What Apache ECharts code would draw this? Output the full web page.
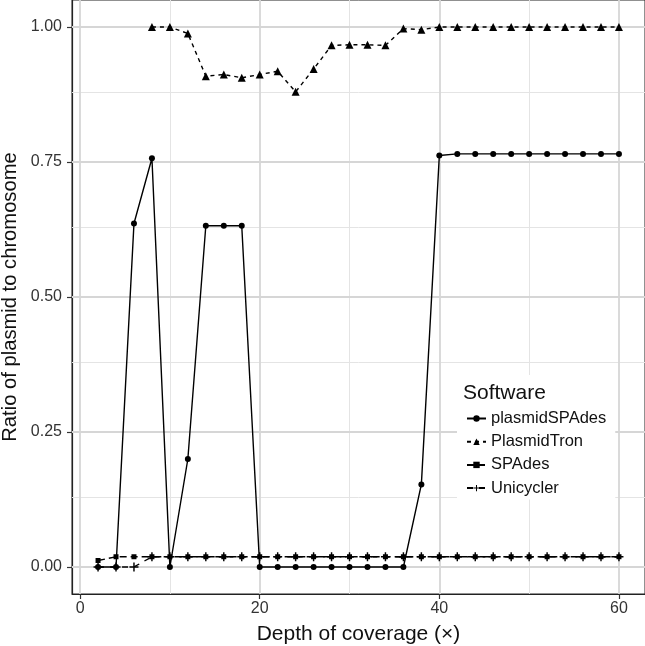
<!DOCTYPE html>
<html>
<head>
<meta charset="utf-8">
<script src="https://cdn.jsdelivr.net/npm/echarts@6/dist/echarts.min.js"></script>
<style>
  html, body { margin: 0; padding: 0; background: #fff; }
  #chart { width: 645px; height: 646px; }
</style>
</head>
<body>
<div id="chart"></div>
<script>
// depth of coverage on x
var depth = [2, 4, 6, 8, 10, 12, 14, 16, 18, 20, 22, 24, 26, 28, 30,
             32, 34, 36, 38, 40, 42, 44, 46, 48, 50, 52, 54, 56, 58, 60];

var plasmidSPAdes = [0, 0, 0.636, 0.757, 0, 0.2, 0.632, 0.632, 0.632, 0,
                     0, 0, 0, 0, 0, 0, 0, 0, 0.153, 0.762,
                     0.765, 0.765, 0.765, 0.765, 0.765, 0.765, 0.765, 0.765, 0.765, 0.765];
var plasmidTron = [null, null, null, 1.0, 1.0, 0.988, 0.909, 0.912, 0.906, 0.912,
                   0.918, 0.88, 0.922, 0.966, 0.967, 0.967, 0.966, 0.997, 0.995, 1.0,
                   1.0, 1.0, 1.0, 1.0, 1.0, 1.0, 1.0, 1.0, 1.0, 1.0];
var spades = [0.012, 0.019, 0.019, 0.019, 0.019, 0.019, 0.019, 0.019, 0.019, 0.019,
              0.019, 0.019, 0.019, 0.019, 0.019, 0.019, 0.019, 0.019, 0.019, 0.019,
              0.019, 0.019, 0.019, 0.019, 0.019, 0.019, 0.019, 0.019, 0.019, 0.019];
var unicycler = [0, 0, 0, 0.019, 0.019, 0.019, 0.019, 0.019, 0.019, 0.019,
                 0.019, 0.019, 0.019, 0.019, 0.019, 0.019, 0.019, 0.019, 0.019, 0.019,
                 0.019, 0.019, 0.019, 0.019, 0.019, 0.019, 0.019, 0.019, 0.019, 0.019];

var xTicks = [0, 20, 40, 60];
var xMinor = [10, 30, 50];
var yTicks = [0, 0.25, 0.5, 0.75, 1];
var yMinor = [0.125, 0.375, 0.625, 0.875];

var font = "Liberation Sans";
var plusPath = "path://M4.2,0H5.8V4.2H10V5.8H5.8V10H4.2V5.8H0V4.2H4.2Z";

function zip(ys) {
    return depth.map(function (d, i) { return [d, ys[i]]; });
}

function gridLines(values, key, color, width) {
    return values.map(function (v) {
        var o = { lineStyle: { color: color, width: width, type: "solid" } };
        o[key] = v;
        return o;
    });
}

var chart = echarts.init(document.getElementById("chart"));

var lineSeries = function (name, data, dash, symbol, size) {
    return {
        name: name,
        type: "line",
        data: zip(data),
        z: 3,
        connectNulls: false,
        symbol: symbol,
        symbolSize: size,
        showAllSymbol: true,
        itemStyle: { color: "#000" },
        lineStyle: { color: "#000", width: 1.4, type: dash },
        emphasis: { disabled: true },
        animation: false
    };
};

var option = {
    animation: false,
    textStyle: { fontFamily: font },
    title: {
        text: "Software",
        left: 463,
        top: 383,
        z: 10,
        padding: 0,
        textStyle: { fontFamily: font, fontSize: 21, fontWeight: "normal", color: "#111" }
    },
    legend: {
        data: ["plasmidSPAdes", "PlasmidTron", "SPAdes", "Unicycler"],
        orient: "vertical",
        left: 457,
        top: 375,
        z: 5,
        padding: [35, 9, 3, 9],
        backgroundColor: "#fff",
        itemWidth: 19,
        itemHeight: 8,
        itemGap: 6.2,
        textStyle: { fontFamily: font, fontSize: 16.5, color: "#111" }
    },
    grid: {
        left: 72,
        right: 0,
        top: 0,
        bottom: 52,
        containLabel: false,
        outerBoundsMode: "none",
        show: true,
        backgroundColor: "#fff",
        borderColor: "#222",
        borderWidth: 1
    },
    xAxis: {
        type: "value",
        min: -0.9,
        max: 62.9,
        name: "Depth of coverage (×)",
        nameLocation: "middle",
        nameGap: 30,
        nameTextStyle: { fontFamily: font, fontSize: 21, color: "#111" },
        axisLine: { show: true, onZero: false, lineStyle: { color: "#222", width: 1.2 } },
        axisTick: { show: true, length: 5, customValues: xTicks, lineStyle: { color: "#333", width: 1.2 } },
        axisLabel: { customValues: xTicks, margin: 7, fontSize: 16, color: "#333", fontFamily: font },
        splitLine: { show: false }
    },
    yAxis: {
        type: "value",
        min: -0.05,
        max: 1.05,
        name: "Ratio of plasmid to chromosome",
        nameLocation: "middle",
        nameRotate: 90,
        nameGap: 50,
        nameTextStyle: { fontFamily: font, fontSize: 20.2, color: "#111" },
        axisLine: { show: true, onZero: false, lineStyle: { color: "#222", width: 1.2 } },
        axisTick: { show: true, length: 5, customValues: yTicks, lineStyle: { color: "#333", width: 1.2 } },
        axisLabel: {
            customValues: yTicks, margin: 10, fontSize: 16, color: "#333", fontFamily: font,
            formatter: function (v) { return v.toFixed(2); }
        },
        splitLine: { show: false }
    },
    series: [
        {
            name: "grid",
            type: "line",
            data: [],
            z: 1,
            silent: true,
            markLine: {
                silent: true,
                z: 1,
                symbol: ["none", "none"],
                label: { show: false },
                emphasis: { disabled: true },
                animation: false,
                data: []
                    .concat(gridLines(xMinor, "xAxis", "#e4e4e4", 1))
                    .concat(gridLines(yMinor, "yAxis", "#e4e4e4", 1))
                    .concat(gridLines(xTicks, "xAxis", "#d6d6d6", 1.8))
                    .concat(gridLines(yTicks, "yAxis", "#d6d6d6", 1.8))
            }
        },
        lineSeries("plasmidSPAdes", plasmidSPAdes, "solid", "circle", 6),
        lineSeries("PlasmidTron", plasmidTron, [4, 4], "triangle", 8),
        lineSeries("SPAdes", spades, [7, 4], "rect", 5),
        lineSeries("Unicycler", unicycler, [6, 6], plusPath, 9)
    ]
};

chart.setOption(option);
</script>
</body>
</html>
